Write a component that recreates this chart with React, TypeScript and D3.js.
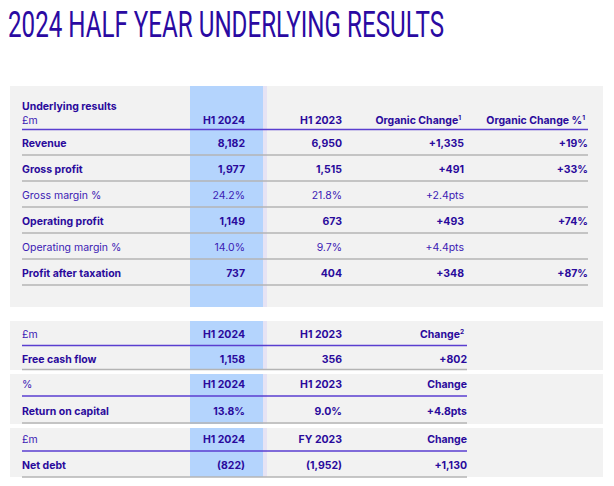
import React from "react";
import * as d3 from "d3";

// main table
const mainColumns = ["H1 2024", "H1 2023", "Organic Change", "Organic Change %"];
const mainColumnSup = ["", "", "1", "1"];
const mainRowLabels = [
  "Revenue",
  "Gross profit",
  "Gross margin %",
  "Operating profit",
  "Operating margin %",
  "Profit after taxation",
];
const mainRowBold = [true, true, false, true, false, true];
const h12024 = ["8,182", "1,977", "24.2%", "1,149", "14.0%", "737"];
const h12023 = ["6,950", "1,515", "21.8%", "673", "9.7%", "404"];
const organicChange = ["+1,335", "+491", "+2.4pts", "+493", "+4.4pts", "+348"];
const organicChangePct = ["+19%", "+33%", "", "+74%", "", "+87%"];

// small tables
const smallUnits = ["£m", "%", "£m"];
const smallColumns = [
  ["H1 2024", "H1 2023", "Change"],
  ["H1 2024", "H1 2023", "Change"],
  ["H1 2024", "FY 2023", "Change"],
];
const smallSup = ["2", "", ""];
const smallLabels = ["Free cash flow", "Return on capital", "Net debt"];
const smallValues = [
  ["1,158", "356", "+802"],
  ["13.8%", "9.0%", "+4.8pts"],
  ["(822)", "(1,952)", "+1,130"],
];

const DARK = "#2a0a9c";
const LIGHT = "#3b20b4";
const PURPLE_LINE = "#5a3ed0";
const GREY_LINE = "#b4b4b4";
const BG = "#f2f2f2";
const BLUE = "#b4d4fd";
const FONT = "Inter, 'Noto Sans', sans-serif";

const colRight = [245, 342, 464, 588];
const smallColRight = [245, 342, 467];

const TITLE_SCALE = 0.56;

export default function App() {
  const rowY = d3.scaleLinear().domain([0, 1]).range([143, 169]);
  const lineY = (i: number) => rowY(i) + 12;

  const panels = [
    { top: 321, bottom: 370, head: 334.5, line: 345.5, row: 359, end: 369.5 },
    { top: 374, bottom: 424, head: 384.5, line: 396, row: 411, end: 423 },
    { top: 428, bottom: 477, head: 439, line: 451, row: 465, end: 477 },
  ];

  const txt = (
    x: number,
    y: number,
    s: string,
    bold: boolean,
    anchor: string = "start",
    sup = ""
  ) => (
    <text
      x={x}
      y={y + 3.8}
      textAnchor={anchor}
      fontFamily={FONT}
      fontSize={10.5}
      fontWeight={bold ? 700 : 400}
      fill={bold ? DARK : LIGHT}
    >
      {s}
      {sup && (
        <tspan fontSize={6.5} dy={-4}>
          {sup}
        </tspan>
      )}
    </text>
  );

  return (
    <div style={{ position: "absolute", left: 0, top: 0 }}>
      <svg width={614} height={486} style={{ display: "block", background: "#fff" }}>
        <g transform={`translate(8,37) scale(${TITLE_SCALE},1)`}>
          <text
            x={0}
            y={0}
            fontFamily="Roboto, sans-serif"
            fontSize={37}
            fill="#2a0aa2"
            textLength={436 / TITLE_SCALE}
            lengthAdjust="spacingAndGlyphs"
          >
            2024 HALF YEAR UNDERLYING RESULTS
          </text>
        </g>

        {/* main panel */}
        <rect x={10} y={86} width={593} height={221} fill={BG} />
        <rect x={190} y={86} width={73} height={221} fill={BLUE} />
        <rect x={263} y={86} width={4} height={221} fill="#e6e3f4" />
        {txt(22, 106.5, "Underlying results", true)}
        {txt(22, 120, "£m", false)}
        {mainColumns.map((c, j) => (
          <React.Fragment key={c}>{txt(colRight[j] - (mainColumnSup[j] ? 3 : 0), 120, c, true, "end", mainColumnSup[j])}</React.Fragment>
        ))}
        <line x1={22} x2={588} y1={129.5} y2={129.5} stroke={PURPLE_LINE} strokeWidth={1.6} />
        {mainRowLabels.map((label, i) => {
          const b = mainRowBold[i];
          const vals = [h12024[i], h12023[i], organicChange[i], organicChangePct[i]];
          return (
            <g key={label}>
              {txt(22, rowY(i), label, b)}
              {vals.map((v, j) => (
                <React.Fragment key={j}>{txt(colRight[j], rowY(i), v, b, "end")}</React.Fragment>
              ))}
              <line x1={22} x2={588} y1={lineY(i)} y2={lineY(i)} stroke={GREY_LINE} strokeWidth={1.4} />
            </g>
          );
        })}

        {/* small panels */}
        {panels.map((p, k) => (
          <g key={k}>
            <rect x={10} y={p.top} width={593} height={p.bottom - p.top} fill={BG} />
            <rect x={190} y={p.top} width={73} height={p.bottom - p.top} fill={BLUE} />
            <rect x={263} y={p.top} width={4} height={p.bottom - p.top} fill="#e6e3f4" />
            {txt(22, p.head, smallUnits[k], false)}
            {smallColumns[k].map((c, j) => (
              <React.Fragment key={j}>
                {txt(smallColRight[j] - (j === 2 && smallSup[k] ? 3 : 0), p.head, c, true, "end", j === 2 ? smallSup[k] : "")}
              </React.Fragment>
            ))}
            <line x1={22} x2={467} y1={p.line} y2={p.line} stroke={PURPLE_LINE} strokeWidth={1.6} />
            {txt(22, p.row, smallLabels[k], true)}
            {smallValues[k].map((v, j) => (
              <React.Fragment key={j}>{txt(smallColRight[j], p.row, v, true, "end")}</React.Fragment>
            ))}
            <line x1={22} x2={467} y1={p.end} y2={p.end} stroke={GREY_LINE} strokeWidth={1.4} />
          </g>
        ))}
      </svg>
    </div>
  );
}
